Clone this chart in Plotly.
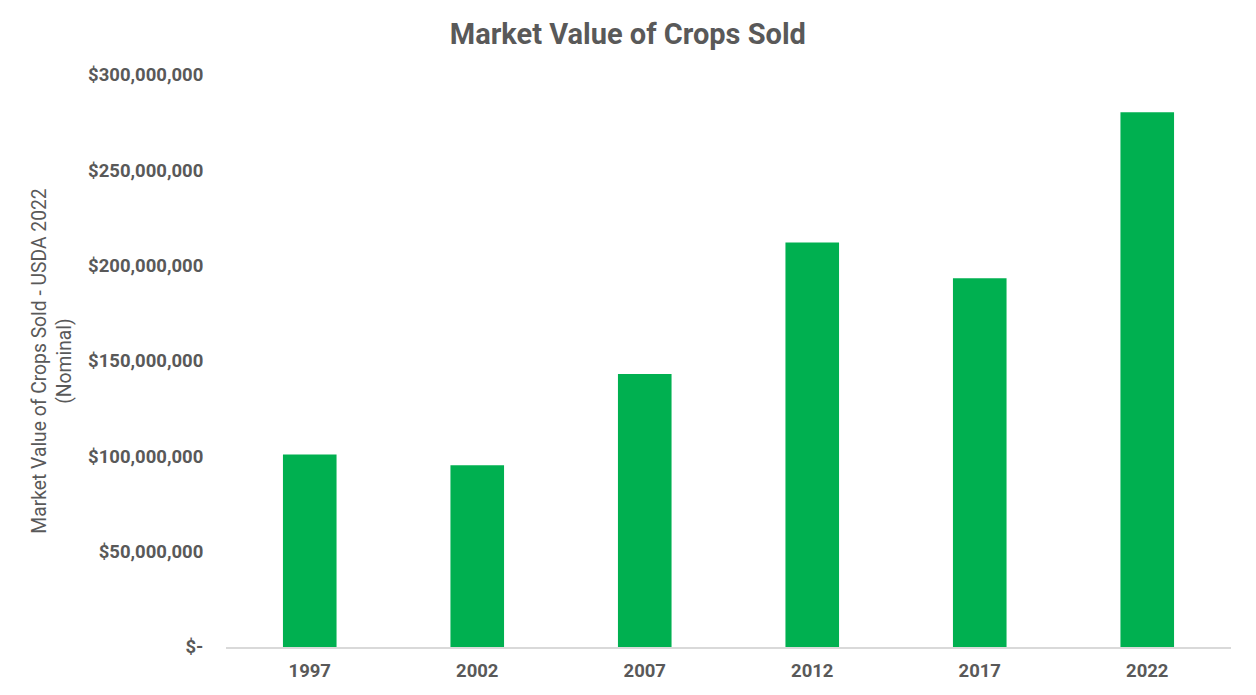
import plotly.graph_objects as go

# census years and crop sales (nominal dollars)
years = ["1997", "2002", "2007", "2012", "2017", "2022"]
crop_sales = [101_000_000, 95_300_000, 143_200_000, 212_200_000, 193_400_000, 280_400_000]

ytick_vals = [0, 50_000_000, 100_000_000, 150_000_000, 200_000_000, 250_000_000, 300_000_000]
ytick_text = ["$-", "$50,000,000", "$100,000,000", "$150,000,000",
              "$200,000,000", "$250,000,000", "$300,000,000"]

grey = "#595959"

fig = go.Figure()
fig.add_trace(go.Bar(x=years, y=crop_sales, marker_color="#00B050",
                     marker_line_width=0, width=0.32))

# the page sits 8px in from the top-left corner, margins allow for it
fig.update_layout(
    width=1256, height=695,
    margin=dict(l=218, r=33, t=67, b=56),
    paper_bgcolor="white", plot_bgcolor="white",
    font=dict(family="Roboto", color=grey),
    showlegend=False,
    title=dict(text="Market Value of Crops Sold", x=0.4935, xanchor="center",
               y=0.963, yanchor="middle",
               font=dict(size=29, weight="bold", color=grey)),
)
fig.update_xaxes(type="category", showgrid=False, showline=True,
                 linecolor="#D9D9D9", linewidth=1.5,
                 ticks="outside", ticklen=6, tickcolor="rgba(0,0,0,0)",
                 tickfont=dict(size=18.5, weight="bold", color=grey))
fig.update_yaxes(range=[0, 300_000_000], tickvals=ytick_vals, ticktext=ytick_text,
                 showgrid=False, zeroline=False, showline=False,
                 ticks="outside", ticklen=18, tickcolor="rgba(0,0,0,0)",
                 tickfont=dict(size=18.5, weight="bold", color=grey),
                 title=dict(text="Market Value of Crops Sold - USDA 2022<br>(Nominal)",
                            standoff=11, font=dict(size=19.3, color=grey)))

fig.write_html("out.html")
